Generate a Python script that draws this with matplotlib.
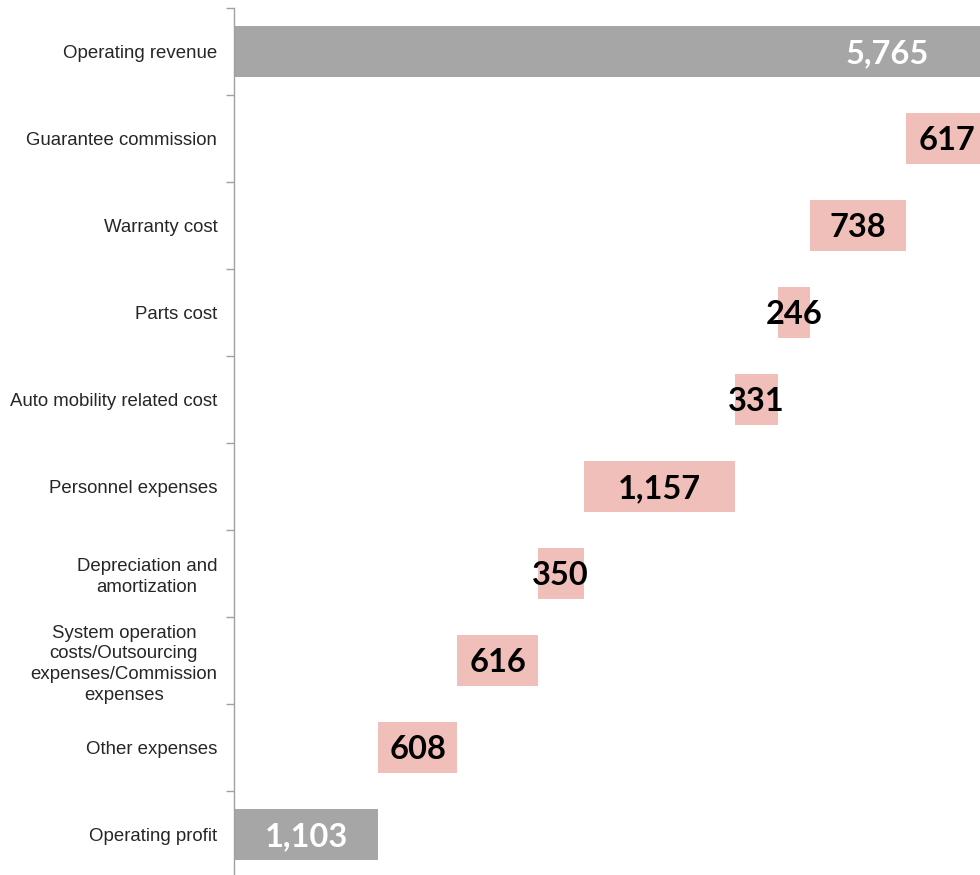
import numpy as np
import matplotlib
matplotlib.use("Agg")
import matplotlib.pyplot as plt

categories = [
    "Operating revenue",
    "Guarantee commission",
    "Warranty cost",
    "Parts cost",
    "Auto mobility related cost",
    "Personnel expenses",
    "Depreciation and\namortization",
    "System operation\ncosts/Outsourcing\nexpenses/Commission\nexpenses",
    "Other expenses",
    "Operating profit",
]
revenue = 5765
costs = [617, 738, 246, 331, 1157, 350, 616, 608]
profit = 1103

GRAY = "#A6A6A6"
PINK = "#F0BFB9"

# waterfall: each cost bar hangs from the remaining total
remaining = revenue - np.cumsum(costs)
cost_left = remaining
cost_right = remaining + np.array(costs)

fig = plt.figure(figsize=(9.8, 8.75), dpi=100)
ax = fig.add_axes([234 / 980, -3 / 875, 753 / 980, 870 / 875])

ypos = np.arange(len(categories))
bh = 0.575

ax.barh(0, revenue, left=0, height=bh, color=GRAY)
ax.barh(ypos[1:-1], costs, left=cost_left, height=bh, color=PINK)
ax.barh(len(categories) - 1, profit, left=0, height=bh, color=GRAY)

val_font = dict(family=["Lato", "DejaVu Sans"], fontsize=23.5, fontweight="bold")

ax.annotate(f"{revenue:,}", xy=(revenue, 0), xytext=(-42, -1.5),
            textcoords="offset points", ha="right", va="center",
            color="white", **val_font)
for y, l, r, v in zip(ypos[1:-1], cost_left, cost_right, costs):
    ax.annotate(f"{v:,}", xy=((l + r) / 2, y), xytext=(0, -1.5),
                textcoords="offset points", ha="center", va="center",
                color="black", **val_font)
ax.annotate(f"{profit:,}", xy=(profit / 2, ypos[-1]), xytext=(0, -1.5),
            textcoords="offset points", ha="center", va="center",
            color="white", **val_font)

ax.set_xlim(0, revenue)
ax.set_ylim(len(categories) - 0.5, -0.5)

# labels at category centres, tick marks at the boundaries
ax.set_yticks(ypos)
ax.set_yticklabels(categories, family=["Liberation Sans", "DejaVu Sans"],
                   fontsize=13.4, color="#262626", linespacing=1.27)
for lab in ax.get_yticklabels():
    lab.set_multialignment("center")
ax.tick_params(axis="y", which="major", length=0, pad=12)
ax.set_yticks(np.arange(-0.5, len(categories), 1.0), minor=True)
ax.tick_params(axis="y", which="minor", length=6, width=1, color="#A0A0A0")

ax.set_xticks([])
for side in ["top", "right", "bottom"]:
    ax.spines[side].set_visible(False)
ax.spines["left"].set_color("#A0A0A0")
ax.spines["left"].set_linewidth(1)

fig.savefig("out.png", dpi=100)
